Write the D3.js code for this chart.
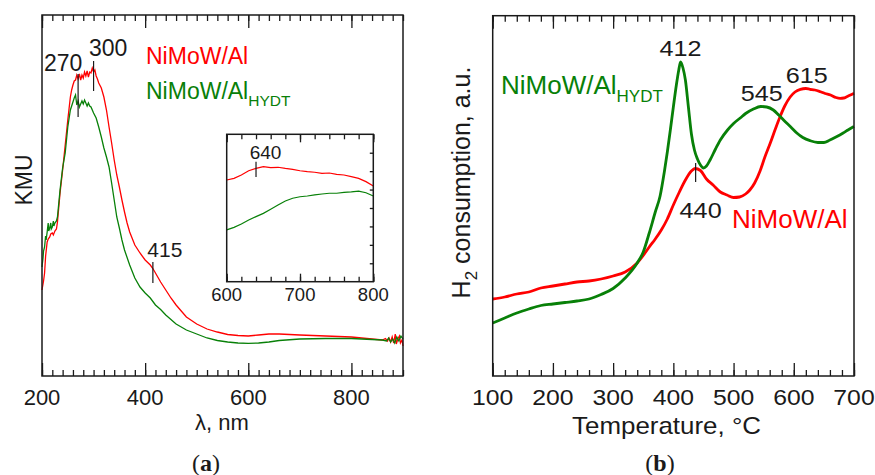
<!DOCTYPE html>
<html>
<head>
<meta charset="utf-8">
<script src="https://cdn.jsdelivr.net/npm/d3@7"></script>
<style>
  body { margin: 0; background: #fff; }
  svg { display: block; font-family: "Liberation Sans", Arial, sans-serif; }
</style>
</head>
<body>
<svg id="chart" width="875" height="475"></svg>
<script>
// ---- panel (a): diffuse reflectance UV-vis, KMU (a.u.) ----
var uvRedNm = [200,203,205,207,210,212,215,217,220,222,225,228,230,235,240,245,250,255,257.5,260,262.5,265,267.5,270,272.5,275,277.5,280,282.5,285,287.5,290,292.5,295,297.5,300,302.5,305,307.5,310,315,320,325,330,335,340,345,350,355,360,365,370,380,390,400,410,415,420,430,440,450,460,470,480,500,520,540,560,580,600,620,640,660,700,750,800,840,860,866,870,873,876,879,882,885,887,890,893,895,898,900];
var uvRedKmu = [0.86,0.95,1.03,1.20,1.34,1.37,1.39,1.42,1.43,1.41,1.45,1.47,1.54,1.83,2.06,2.31,2.56,2.79,2.86,2.91,2.95,2.96,3.01,2.97,3.02,2.96,3.01,2.98,3.04,3.00,3.05,2.99,3.04,3.03,3.08,3.04,3.06,3.00,2.97,2.93,2.88,2.79,2.66,2.49,2.33,2.16,2.01,1.89,1.76,1.64,1.53,1.44,1.31,1.23,1.16,1.11,1.075,1.03,0.94,0.86,0.78,0.71,0.65,0.59,0.52,0.47,0.44,0.415,0.405,0.40,0.41,0.42,0.42,0.41,0.40,0.39,0.37,0.36,0.375,0.35,0.38,0.34,0.39,0.33,0.42,0.32,0.37,0.40,0.33,0.36,0.30];

var uvGreenNm = [200,202,203,205,207,208,210,212,213,215,217,218,220,222,223,225,228,230,235,240,245,250,255,257.5,260,262.5,265,267.5,270,272.5,275,277.5,280,282.5,285,287.5,290,292.5,295,300,305,310,315,320,325,330,335,340,345,350,355,360,370,380,390,400,410,420,430,440,460,480,500,520,540,560,580,600,620,640,660,700,750,800,840,860,868,872,876,880,884,888,892,896,900];
var uvGreenKmu = [1.09,1.18,1.25,1.29,1.40,1.36,1.44,1.53,1.45,1.48,1.53,1.47,1.49,1.55,1.50,1.53,1.55,1.59,1.86,2.08,2.23,2.49,2.66,2.70,2.74,2.78,2.81,2.71,2.75,2.69,2.72,2.75,2.72,2.76,2.73,2.70,2.73,2.70,2.69,2.63,2.58,2.49,2.39,2.28,2.19,2.09,1.93,1.76,1.59,1.48,1.36,1.26,1.11,0.98,0.89,0.83,0.78,0.71,0.665,0.61,0.52,0.46,0.42,0.38,0.355,0.34,0.33,0.327,0.33,0.34,0.355,0.37,0.375,0.375,0.365,0.36,0.35,0.38,0.34,0.37,0.33,0.39,0.35,0.40,0.37];

// inset 600-800 nm
var insetNm    = [600,610,620,630,640,650,660,670,680,690,700,710,720,730,740,750,760,770,780,790,800];
var insetRed   = [5.52,5.61,5.79,6.02,6.15,6.24,6.19,6.21,6.15,6.10,6.02,5.97,5.94,5.88,5.90,5.83,5.79,5.70,5.61,5.43,5.19];
var insetGreen = [2.81,2.95,3.13,3.35,3.53,3.71,3.93,4.16,4.38,4.53,4.61,4.65,4.71,4.76,4.80,4.80,4.85,4.88,4.92,4.83,4.65];

var uvPeaks      = [270, 300, 415];
var uvPeakTop    = [3.02, 3.15, 1.14];
var uvPeakBottom = [2.59, 2.85, 0.93];
var insetPeak = 640, insetPeakTop = 6.51, insetPeakBottom = 5.68;

// ---- panel (b): H2-TPR ----
var tprRedT  = [100,120,140,160,180,200,220,240,260,280,300,320,340,350,360,370,380,390,400,410,420,430,436,445,455,466,478,489,500,510,520,527,535,544,552,561,570,577,585,594,602,611,620,627,635,644,652,661,670,677,683,688,694,700];
var tprRedH2 = [0.77,0.79,0.82,0.84,0.88,0.90,0.92,0.94,0.95,0.97,1.00,1.04,1.13,1.205,1.29,1.37,1.46,1.57,1.71,1.84,1.96,2.05,2.075,2.055,1.97,1.91,1.84,1.81,1.785,1.79,1.82,1.86,1.93,2.05,2.19,2.33,2.48,2.59,2.70,2.79,2.84,2.867,2.875,2.867,2.86,2.843,2.825,2.81,2.785,2.777,2.78,2.793,2.81,2.827];

var tprGreenT  = [100,120,140,160,180,200,220,240,260,280,300,320,340,350,360,370,378,385,390,395,400,405,409,412,416,420,425,430,435,440,445,450,455,461,470,478,490,500,511,520,533,545,555,566,575,583,595,605,615,627,640,650,660,670,682,690,700];
var tprGreenH2 = [0.53,0.58,0.63,0.67,0.705,0.72,0.735,0.75,0.77,0.815,0.875,0.98,1.13,1.24,1.43,1.64,1.80,2.04,2.24,2.46,2.69,2.91,3.06,3.14,3.08,2.96,2.69,2.42,2.26,2.17,2.11,2.08,2.10,2.16,2.27,2.36,2.46,2.525,2.58,2.625,2.67,2.695,2.69,2.66,2.61,2.56,2.49,2.43,2.385,2.353,2.335,2.335,2.36,2.39,2.43,2.46,2.495];

var tprPeaks = [412, 545, 615];
var tprPeakH2 = [3.14, 2.695, 2.875];
var tprMarkT = 437, tprMarkTop = 2.13, tprMarkBottom = 1.94;

var xTicksA = [200, 400, 600, 800];
var xTicksInset = [600, 700, 800];
var xTicksB = [100, 200, 300, 400, 500, 600, 700];

var RED = "#ff0000", GREEN = "#088008", INK = "#1a1a1a";

var svg = d3.select("#chart");
svg.append("rect").attr("width", 875).attr("height", 475).attr("fill", "#fff");

function zip(xs, ys) { return xs.map(function(x, i) { return [x, ys[i]]; }); }

// inward ticks along a horizontal edge
function hTicks(g, scale, yPos, values, len, top) {
  var axis = (top ? d3.axisTop(scale) : d3.axisBottom(scale))
    .tickValues(values).tickSize(-len).tickFormat("");
  g.append("g").attr("transform", "translate(0," + yPos + ")").call(axis)
    .call(function(a) { a.select(".domain").remove(); })
    .call(function(a) { a.selectAll("line").attr("stroke", INK).attr("stroke-width", 1.3); });
}
function range(a, b, s) { var r = []; for (var v = a; v <= b + 1e-9; v += s) r.push(v); return r; }

function addText(g, x, y, str, size, opts) {
  opts = opts || {};
  var t = g.append("text")
    .attr("transform", "translate(" + x + "," + y + ")" + (opts.rotate ? " rotate(" + opts.rotate + ")" : "") + " scale(" + (opts.sx || 1) + ",1)")
    .attr("text-anchor", opts.anchor || "middle")
    .attr("font-size", size)
    .attr("fill", opts.fill || INK);
  if (str) t.text(str);
  return t;
}

// ================= panel (a) =================
var aL = 42, aR = 403, aT = 15, aB = 376;
var xA = d3.scaleLinear().domain([200, 900]).range([aL, aR]);
var yA = d3.scaleLinear().domain([0, 3.61]).range([aB, aT]);
var pa = svg.append("g");

var lineA = d3.line().x(function(d) { return xA(d[0]); }).y(function(d) { return yA(d[1]); });
pa.append("path").attr("d", lineA(zip(uvRedNm, uvRedKmu))).attr("fill", "none").attr("stroke", RED).attr("stroke-width", 1.3);
pa.append("path").attr("d", lineA(zip(uvGreenNm, uvGreenKmu))).attr("fill", "none").attr("stroke", GREEN).attr("stroke-width", 1.3);

var minorA = range(200, 900, 20);
hTicks(pa, xA, aB, minorA, 6, false);
hTicks(pa, xA, aB, xTicksA, 13, false);
hTicks(pa, xA, aT, minorA, 6, true);
hTicks(pa, xA, aT, xTicksA, 13, true);
pa.append("rect").attr("x", aL).attr("y", aT).attr("width", aR - aL).attr("height", aB - aT)
  .attr("fill", "none").attr("stroke", INK).attr("stroke-width", 1.5);
xTicksA.forEach(function(v) { addText(pa, xA(v), 405, String(v), 22); });

addText(pa, 222, 430, "λ, nm", 22);
addText(pa, 32, 180, "KMU", 23, { rotate: -90 });

// peak markers
var peakDx = [-15, 14.6, 12];
var peakGap = [3, 5, 5];
var peakSize = [23, 23, 21];
uvPeaks.forEach(function(p, i) {
  pa.append("line").attr("x1", xA(p)).attr("x2", xA(p))
    .attr("y1", yA(uvPeakTop[i])).attr("y2", yA(uvPeakBottom[i]))
    .attr("stroke", INK).attr("stroke-width", 1.2);
  addText(pa, xA(p) + peakDx[i], yA(uvPeakTop[i]) - peakGap[i], String(p), peakSize[i]);
});

// legend
addText(pa, 146, 64, "NiMoW/Al", 23, { anchor: "start", fill: RED });
var lg = addText(pa, 146, 99, null, 23, { anchor: "start", fill: GREEN });
lg.append("tspan").text("NiMoW/Al");
lg.append("tspan").attr("dy", 7).attr("font-size", 15.5).text("HYDT");

// inset
var iL = 226.7, iR = 373.3, iT = 134.3, iB = 281.7;
var xI = d3.scaleLinear().domain([600, 800]).range([iL, iR]);
var yI = d3.scaleLinear().domain([0, 8]).range([iB, iT]);
var pi = pa.append("g");
pi.append("rect").attr("x", iL).attr("y", iT).attr("width", iR - iL).attr("height", iB - iT).attr("fill", "#fff");
var lineI = d3.line().x(function(d) { return xI(d[0]); }).y(function(d) { return yI(d[1]); });
pi.append("path").attr("d", lineI(zip(insetNm, insetRed))).attr("fill", "none").attr("stroke", RED).attr("stroke-width", 1.2);
pi.append("path").attr("d", lineI(zip(insetNm, insetGreen))).attr("fill", "none").attr("stroke", GREEN).attr("stroke-width", 1.2);
var minorI = range(600, 800, 20);
hTicks(pi, xI, iB, minorI, 5, false);
hTicks(pi, xI, iB, xTicksInset, 8, false);
hTicks(pi, xI, iT, minorI, 5, true);
hTicks(pi, xI, iT, xTicksInset, 8, true);
pi.append("g").attr("transform", "translate(" + iR + ",0)")
  .call(d3.axisRight(yI).tickValues(range(1, 7, 1)).tickSize(-3.5).tickFormat(""))
  .call(function(a) { a.select(".domain").remove(); })
  .call(function(a) { a.selectAll("line").attr("stroke", INK).attr("stroke-width", 1.3); });
pi.append("rect").attr("x", iL).attr("y", iT).attr("width", iR - iL).attr("height", iB - iT)
  .attr("fill", "none").attr("stroke", INK).attr("stroke-width", 1.5);
xTicksInset.forEach(function(v) { addText(pi, xI(v), 301, String(v), 18.5); });
pi.append("line").attr("x1", xI(insetPeak)).attr("x2", xI(insetPeak))
  .attr("y1", yI(insetPeakTop)).attr("y2", yI(insetPeakBottom))
  .attr("stroke", INK).attr("stroke-width", 1.2);
addText(pi, xI(insetPeak) + 9.5, yI(insetPeakTop) - 2.4, String(insetPeak), 19);

var ca = addText(pa, 206, 471, null, 24);
ca.attr("font-family", "'Liberation Serif', 'DejaVu Serif', serif");
ca.append("tspan").text("(");
ca.append("tspan").attr("font-weight", "bold").text("a");
ca.append("tspan").text(")");

// ================= panel (b) =================
var bL = 492.7, bR = 854, bT = 15.7, bB = 376;
var xB = d3.scaleLinear().domain([100, 700]).range([bL, bR]);
var yB = d3.scaleLinear().domain([0, 3.603]).range([bB, bT]);
var pb = svg.append("g");

var lineB = d3.line().curve(d3.curveMonotoneX)
  .x(function(d) { return xB(d[0]); }).y(function(d) { return yB(d[1]); });
pb.append("path").attr("d", lineB(zip(tprRedT, tprRedH2))).attr("fill", "none").attr("stroke", RED).attr("stroke-width", 2.8);
pb.append("path").attr("d", lineB(zip(tprGreenT, tprGreenH2))).attr("fill", "none").attr("stroke", GREEN).attr("stroke-width", 2.8);

var minorB = range(100, 700, 20);
hTicks(pb, xB, bB, minorB, 6, false);
hTicks(pb, xB, bB, xTicksB, 13, false);
hTicks(pb, xB, bT, minorB, 6, true);
hTicks(pb, xB, bT, xTicksB, 13, true);
pb.append("rect").attr("x", bL).attr("y", bT).attr("width", bR - bL).attr("height", bB - bT)
  .attr("fill", "none").attr("stroke", INK).attr("stroke-width", 1.5);
xTicksB.forEach(function(v) { addText(pb, xB(v), 405, String(v), 22.5, { sx: 1.1 }); });

addText(pb, 666.5, 434, "Temperature, °C", 24, { sx: 1.08 });
var yl = addText(pb, 470, 182.5, null, 25, { rotate: -90 });
yl.append("tspan").text("H");
yl.append("tspan").attr("dy", 7).attr("font-size", 17).text("2");
yl.append("tspan").attr("dy", -7).text(" consumption, a.u.");

var tprDx = [0, 1, 4];
tprPeaks.forEach(function(p, i) {
  addText(pb, xB(p) + tprDx[i], yB(tprPeakH2[i]) - 6, String(p), 22.5, { sx: 1.12 });
});
pb.append("line").attr("x1", xB(tprMarkT)).attr("x2", xB(tprMarkT))
  .attr("y1", yB(tprMarkTop)).attr("y2", yB(tprMarkBottom))
  .attr("stroke", INK).attr("stroke-width", 1.2);
addText(pb, xB(tprMarkT) + 5, yB(tprMarkBottom) + 36, "440", 22.5, { sx: 1.12 });

var lb = addText(pb, 501, 94, null, 26, { anchor: "start", fill: GREEN });
lb.append("tspan").text("NiMoW/Al");
lb.append("tspan").attr("dy", 8).attr("font-size", 17).text("HYDT");
addText(pb, 732, 228, "NiMoW/Al", 26, { anchor: "start", fill: RED });

var cb = addText(pb, 660, 471, null, 24);
cb.attr("font-family", "'Liberation Serif', 'DejaVu Serif', serif");
cb.append("tspan").text("(");
cb.append("tspan").attr("font-weight", "bold").text("b");
cb.append("tspan").text(")");
</script>
</body>
</html>
